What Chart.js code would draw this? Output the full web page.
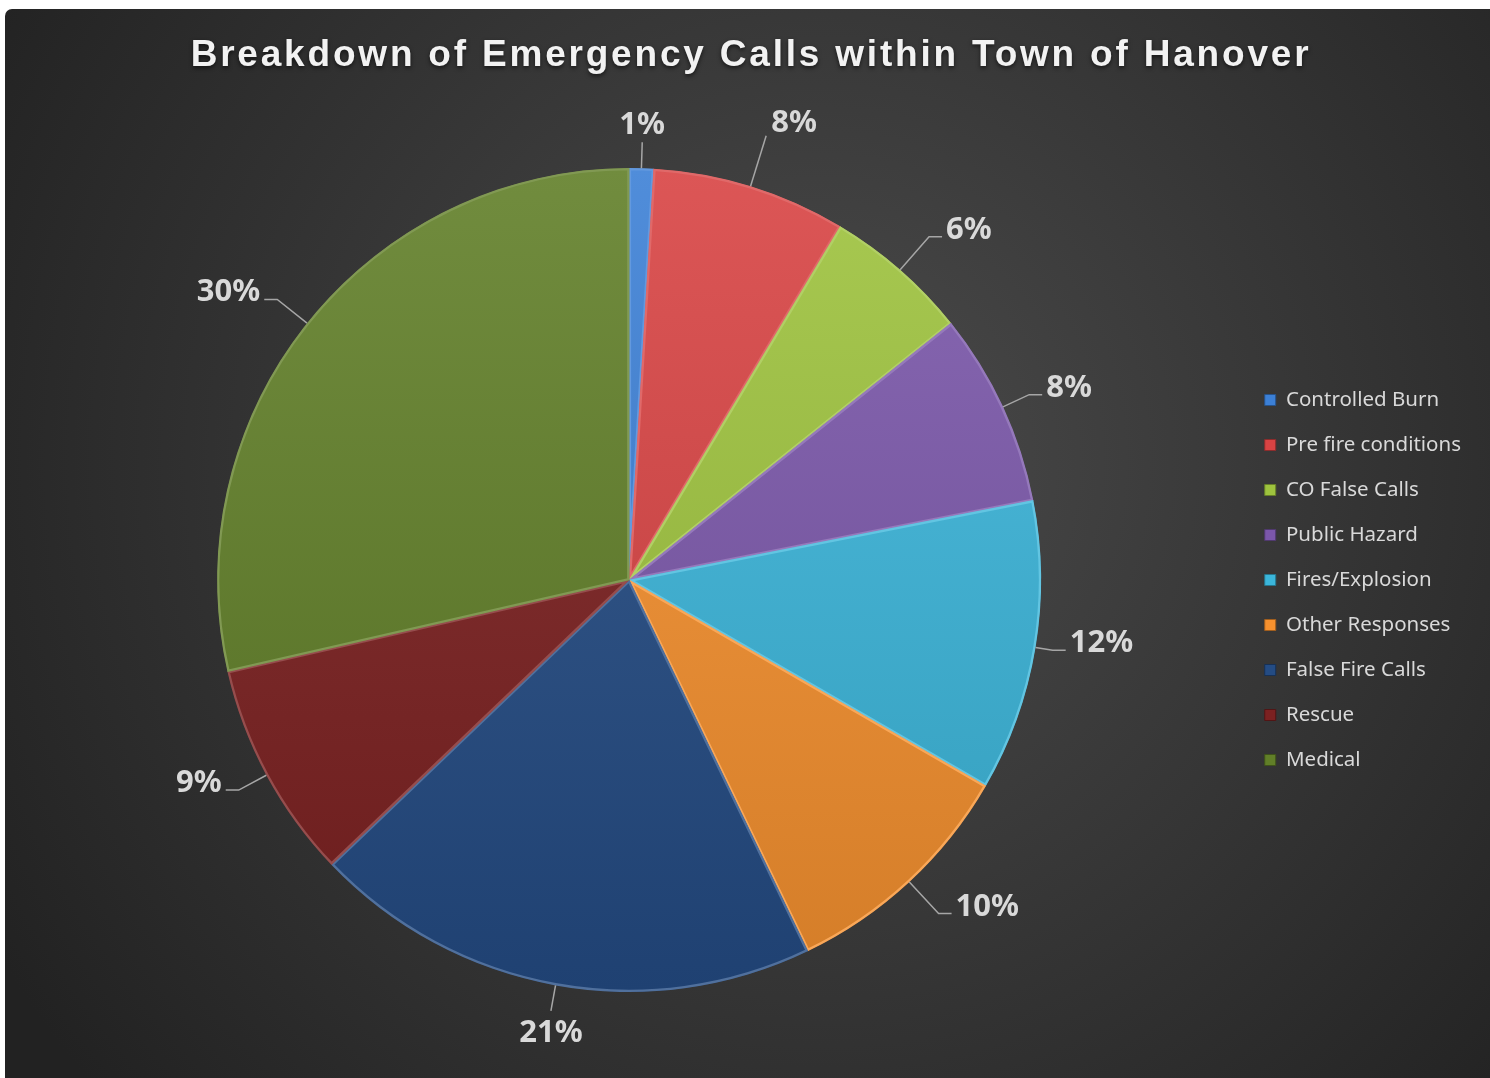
<!DOCTYPE html>
<html>
<head>
<meta charset="utf-8">
<title>Breakdown of Emergency Calls within Town of Hanover</title>
<script src="https://cdn.jsdelivr.net/npm/chart.js@4.4.1/dist/chart.umd.min.js"></script>
<style>
  html, body { margin: 0; padding: 0; background: #fff; }
  #wrap { position: relative; width: 1490px; height: 1078px; }
</style>
</head>
<body>
<div id="wrap"><canvas id="callsChart"></canvas></div>
<script>
const chartTitle = 'Breakdown of Emergency Calls within Town of Hanover';
const callTypes = [
  'Controlled Burn', 'Pre fire conditions', 'CO False Calls', 'Public Hazard',
  'Fires/Explosion', 'Other Responses', 'False Fire Calls', 'Rescue', 'Medical'
];
const callShares = [1, 8, 6, 8, 12, 10, 21, 9, 30];
const sliceColors = [
  '#3c80d6', '#d84343', '#9ec33e', '#7b57aa',
  '#3bb6db', '#f7912e', '#244c84', '#7c2121', '#617f28'
];

const PIE_RADIUS = 412;

// mix a hex colour towards white (amt > 0) or black (amt < 0)
function shade(hex, amt) {
  const n = parseInt(hex.slice(1), 16);
  let r = n >> 16, g = (n >> 8) & 255, b = n & 255;
  const t = amt < 0 ? 0 : 255, p = Math.abs(amt);
  r = Math.round(r + (t - r) * p);
  g = Math.round(g + (t - g) * p);
  b = Math.round(b + (t - b) * p);
  return 'rgb(' + r + ',' + g + ',' + b + ')';
}

const backdrop = {
  id: 'backdrop',
  beforeDraw(chart) {
    const { ctx, width, height } = chart;
    ctx.save();
    ctx.fillStyle = '#fff';
    ctx.fillRect(0, 0, width, height);
    const g = ctx.createRadialGradient(820, 460, 0, 820, 460, 960);
    g.addColorStop(0, '#4b4b4b');
    g.addColorStop(1, '#222222');
    ctx.fillStyle = g;
    ctx.beginPath();
    ctx.roundRect(5, 9, width + 20, height + 20, 7);
    ctx.fill();
    ctx.restore();
  }
};

const heading = {
  id: 'heading',
  afterDraw(chart) {
    const ctx = chart.ctx;
    ctx.save();
    ctx.font = 'bold 37px "Liberation Sans", Arial, sans-serif';
    ctx.letterSpacing = '2.8px';
    ctx.fillStyle = '#f2f2f2';
    ctx.textAlign = 'center';
    ctx.textBaseline = 'alphabetic';
    ctx.shadowColor = 'rgba(0,0,0,0.6)';
    ctx.shadowBlur = 4;
    ctx.shadowOffsetY = 2;
    ctx.fillText(chartTitle, 751, 66);
    ctx.restore();
  }
};

// percentage labels outside the pie with leader lines
const sliceLabels = {
  id: 'sliceLabels',
  afterDatasetsDraw(chart) {
    const ctx = chart.ctx;
    const meta = chart.getDatasetMeta(0);
    ctx.save();
    ctx.font = 'bold 31px "Noto Sans", sans-serif';
    ctx.strokeStyle = '#a6a6a6';
    ctx.lineWidth = 1.5;
    ctx.fillStyle = '#d9d9d9';
    meta.data.forEach((arc, i) => {
      const { x, y, startAngle, endAngle, outerRadius } =
        arc.getProps(['x', 'y', 'startAngle', 'endAngle', 'outerRadius'], true);
      const mid = (startAngle + endAngle) / 2;
      const dx = Math.cos(mid), dy = Math.sin(mid);
      const ex = x + dx * outerRadius, ey = y + dy * outerRadius;
      const text = callShares[i] + '%';
      ctx.beginPath();
      ctx.textBaseline = 'alphabetic';
      if (Math.abs(dx) < 0.2) {
        // straight tick above / below the pie, label centred on it
        const tx = x + dx * (outerRadius + 26), ty = y + dy * (outerRadius + 26);
        ctx.moveTo(ex, ey);
        ctx.lineTo(tx, ty);
        ctx.stroke();
        ctx.textAlign = 'center';
        ctx.fillText(text, tx, dy < 0 ? ty - 8 : ty + 31);
        return;
      }
      const len = 10 + 45 * Math.abs(dy);
      const bx = x + dx * (outerRadius + len), by = y + dy * (outerRadius + len);
      const side = dx > 0 ? 1 : -1;
      ctx.moveTo(ex, ey);
      ctx.lineTo(bx, by);
      if (Math.abs(dy) > 0.9) {
        // steep leader: label sits right off its end
        ctx.stroke();
        ctx.textAlign = side > 0 ? 'left' : 'right';
        ctx.fillText(text, bx + side * 5, by - 4);
        return;
      }
      const hx = bx + side * 13;
      ctx.lineTo(hx, by);
      ctx.stroke();
      ctx.textAlign = side > 0 ? 'left' : 'right';
      ctx.fillText(text, hx + side * 4, by + 2);
    });
    ctx.restore();
  }
};

Chart.defaults.font.family = '"Noto Sans", sans-serif';

new Chart(document.getElementById('callsChart'), {
  type: 'pie',
  data: {
    labels: callTypes,
    datasets: [{
      data: callShares,
      backgroundColor(c) {
        const base = sliceColors[c.dataIndex];
        const area = c.chart.chartArea;
        if (!area) return base;
        const mid = (area.top + area.bottom) / 2;
        const g = c.chart.ctx.createLinearGradient(0, mid - PIE_RADIUS, 0, mid + PIE_RADIUS);
        g.addColorStop(0, shade(base, 0.1));
        g.addColorStop(1, shade(base, -0.14));
        return g;
      },
      borderColor(c) {
        return shade(sliceColors[c.dataIndex], 0.2);
      },
      borderWidth: 2,
      borderAlign: 'inner',
      radius: PIE_RADIUS
    }]
  },
  options: {
    responsive: true,
    maintainAspectRatio: false,
    animation: false,
    layout: { padding: { top: 100, bottom: 18, left: 18, right: 19 } },
    plugins: {
      title: { display: false },
      tooltip: { enabled: true },
      legend: {
        position: 'right',
        labels: {
          boxWidth: 11,
          boxHeight: 11,
          padding: 24.5,
          color: '#d9d9d9',
          font: { size: 20.5 },
          generateLabels() {
            return callTypes.map((name, i) => ({
              text: name,
              fillStyle: sliceColors[i],
              strokeStyle: shade(sliceColors[i], -0.35),
              lineWidth: 1,
              fontColor: '#d9d9d9',
              hidden: false,
              index: i
            }));
          }
        }
      }
    }
  },
  plugins: [backdrop, heading, sliceLabels]
});
</script>
</body>
</html>
